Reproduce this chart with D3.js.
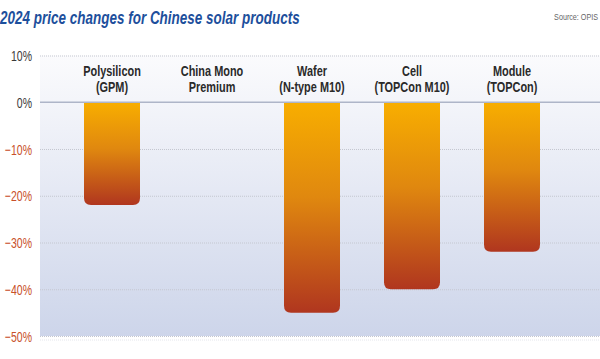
<!DOCTYPE html>
<html>
<head>
<meta charset="utf-8">
<script src="https://cdnjs.cloudflare.com/ajax/libs/d3/7.8.5/d3.min.js"></script>
<style>
  body { margin: 0; background: #fff; }
  svg text { font-family: "Liberation Sans Narrow", "Liberation Sans", sans-serif; }
</style>
</head>
<body>
<script>
var w = 600;
var h = 359;

var categories = ["Polysilicon|(GPM)", "China Mono|Premium", "Wafer|(N-type M10)", "Cell|(TOPCon M10)", "Module|(TOPCon)"];
var changes = [-22, 0, -45, -40, -32];
var tickValues = [10, 0, -10, -20, -30, -40, -50];

var barData = categories.map(function(c, i) {
    return { cat: c, value: changes[i] };
});

var svg = d3.select("body")
    .append("svg")
    .attr("width", w)
    .attr("height", h);

var defs = svg.append("defs");

var bg = defs.append("linearGradient")
    .attr("id", "bg")
    .attr("x1", 0).attr("y1", 0).attr("x2", 0).attr("y2", 1);
bg.append("stop").attr("offset", "0%").attr("stop-color", "#fbfbfd");
bg.append("stop").attr("offset", "100%").attr("stop-color", "#cdd5ea");

var barGrad = defs.append("linearGradient")
    .attr("id", "bar")
    .attr("x1", 0).attr("y1", 0).attr("x2", 0).attr("y2", 1);
barGrad.append("stop").attr("offset", "0%").attr("stop-color", "#f8ae00");
barGrad.append("stop").attr("offset", "45%").attr("stop-color", "#e0880f");
barGrad.append("stop").attr("offset", "100%").attr("stop-color", "#b0361f");

var yScale = d3.scaleLinear()
    .domain([-50, 10])
    .range([336, 55.5]);

var xScale = d3.scaleBand()
    .domain(categories)
    .range([62, 562])
    .paddingInner(0.44)
    .paddingOuter(0.22);

// plot background
svg.append("rect")
    .attr("x", 40)
    .attr("y", yScale(10))
    .attr("width", w - 40)
    .attr("height", yScale(-50) - yScale(10))
    .attr("fill", "url(#bg)");

// dotted grid lines
svg.selectAll(".grid")
    .data(tickValues.filter(function(d) { return d !== 0; }))
    .enter()
    .append("line")
    .attr("class", "grid")
    .attr("x1", 40)
    .attr("x2", w)
    .attr("y1", function(d) { return yScale(d) + 0.5; })
    .attr("y2", function(d) { return yScale(d) + 0.5; })
    .attr("stroke", "#c4c7d0")
    .attr("stroke-dasharray", "1,1");

// faint line under the bottom
svg.append("line")
    .attr("x1", 40).attr("x2", w)
    .attr("y1", yScale(-50) + 4).attr("y2", yScale(-50) + 4)
    .attr("stroke", "#e4e6ec")
    .attr("stroke-dasharray", "1,1");

// tick labels (squeezed to look condensed)
svg.selectAll(".tick-label")
    .data(tickValues)
    .enter()
    .append("text")
    .attr("class", "tick-label")
    .attr("transform", function(d) { return "translate(32," + (yScale(d) + 5.5) + ") scale(0.7,1)"; })
    .attr("text-anchor", "end")
    .attr("font-size", 15)
    .attr("fill", function(d) { return d < 0 ? "#c8502a" : "#3a3a3a"; })
    .text(function(d) { return (d < 0 ? "\u2212" + Math.abs(d) : d) + "%"; });

// bars with rounded bottom corners
function barPath(d) {
    var x0 = xScale(d.cat);
    var bw = xScale.bandwidth();
    var y0 = yScale(0);
    var y1 = yScale(d.value);
    var r = Math.min(7, (y1 - y0) / 2);
    return "M" + x0 + "," + y0 +
        "H" + (x0 + bw) +
        "V" + (y1 - r) +
        "Q" + (x0 + bw) + "," + y1 + " " + (x0 + bw - r) + "," + y1 +
        "H" + (x0 + r) +
        "Q" + x0 + "," + y1 + " " + x0 + "," + (y1 - r) +
        "Z";
}

svg.selectAll(".bar")
    .data(barData.filter(function(d) { return d.value < 0; }))
    .enter()
    .append("path")
    .attr("class", "bar")
    .attr("d", barPath)
    .attr("fill", "url(#bar)");

// zero line
svg.append("line")
    .attr("x1", 40).attr("x2", w)
    .attr("y1", yScale(0)).attr("y2", yScale(0))
    .attr("stroke", "#aeb5c8")
    .attr("stroke-width", 1.5);

// category labels
var labels = svg.selectAll(".cat")
    .data(categories)
    .enter()
    .append("text")
    .attr("class", "cat")
    .attr("transform", function(d) { return "translate(" + (xScale(d) + xScale.bandwidth() / 2) + ",0) scale(0.78,1)"; })
    .attr("text-anchor", "middle")
    .attr("font-size", 14)
    .attr("font-weight", "bold")
    .attr("fill", "#2a2a2a");

labels.selectAll("tspan")
    .data(function(d) { return d.split("|"); })
    .enter()
    .append("tspan")
    .attr("x", 0)
    .attr("y", function(d, i) { return 76 + i * 16; })
    .text(function(d) { return d; });

// title and source
svg.append("text")
    .attr("transform", "translate(0,24) scale(0.71,1)")
    .attr("font-size", 19)
    .attr("font-weight", "bold")
    .attr("font-style", "italic")
    .attr("fill", "#1d4f9c")
    .text("2024 price changes for Chinese solar products");

svg.append("text")
    .attr("transform", "translate(598,20) scale(0.8,1)")
    .attr("text-anchor", "end")
    .attr("font-size", 9)
    .attr("fill", "#666")
    .text("Source: OPIS");
</script>
</body>
</html>
